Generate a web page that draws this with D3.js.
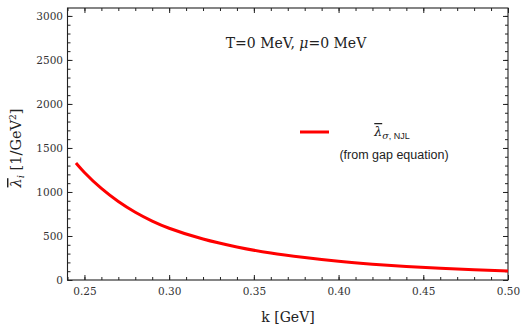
<!DOCTYPE html>
<html><head><meta charset="utf-8">
<script src="https://cdn.jsdelivr.net/npm/d3@7"></script>
<style>
body{margin:0;background:#fff;}
svg{display:block;}
.tick text{font-family:"DejaVu Serif",serif;font-size:10.5px;fill:#333;}
</style></head>
<body>
<svg id="c" width="522" height="327"></svg>
<script>
// data
const kValues = [0.245,0.25,0.26,0.27,0.28,0.29,0.30,0.32,0.34,0.36,0.38,0.40,0.42,0.44,0.46,0.48,0.50];
const lambdaValues = [1330,1222,1040,892,770,670,588,465,375,306,255,213,180,154,133,116,102];
const xTicks = [0.25,0.30,0.35,0.40,0.45,0.50];
const xMinor = d3.range(0.24,0.5001,0.01).map(v=>+v.toFixed(2));
const yTicks = [0,500,1000,1500,2000,2500,3000];
const yMinor = d3.range(0,3001,100);

const svg = d3.select("#c");
const L=67.5,R=508,T=8,B=280;
const x = d3.scaleLinear([0.24,0.50],[L,R]);
const y = d3.scaleLinear([0,3090],[B,T]);
const ink = "#222";

function styleAxis(g){
  g.select(".domain").remove();
  g.selectAll(".tick line").attr("stroke",ink).attr("stroke-width",1);
}
// bottom
svg.append("g").attr("transform",`translate(0,${B})`)
  .call(d3.axisBottom(x).tickValues(xMinor).tickSize(-3).tickFormat("")).call(styleAxis);
svg.append("g").attr("transform",`translate(0,${B})`)
  .call(d3.axisBottom(x).tickValues(xTicks).tickSize(-5).tickPadding(8).tickFormat(d3.format(".2f"))).call(styleAxis);
// top
svg.append("g").attr("transform",`translate(0,${T})`)
  .call(d3.axisTop(x).tickValues(xMinor).tickSize(-3).tickFormat("")).call(styleAxis);
svg.append("g").attr("transform",`translate(0,${T})`)
  .call(d3.axisTop(x).tickValues(xTicks).tickSize(-5).tickFormat("")).call(styleAxis);
// left
svg.append("g").attr("transform",`translate(${L},0)`)
  .call(d3.axisLeft(y).tickValues(yMinor).tickSize(-3).tickFormat("")).call(styleAxis);
svg.append("g").attr("transform",`translate(${L},0)`)
  .call(d3.axisLeft(y).tickValues(yTicks).tickSize(-5).tickPadding(4.5).tickFormat(d3.format("d"))).call(styleAxis);
// right
svg.append("g").attr("transform",`translate(${R},0)`)
  .call(d3.axisRight(y).tickValues(yMinor).tickSize(-3).tickFormat("")).call(styleAxis);
svg.append("g").attr("transform",`translate(${R},0)`)
  .call(d3.axisRight(y).tickValues(yTicks).tickSize(-5).tickFormat("")).call(styleAxis);

// frame
svg.append("rect").attr("x",L).attr("y",T).attr("width",R-L).attr("height",B-T)
  .attr("fill","none").attr("stroke",ink).attr("stroke-width",1.1);

// curve
const data = kValues.map((k,i)=>[k,lambdaValues[i]]);
svg.append("path").datum(data)
  .attr("d",d3.line().x(d=>x(d[0])).y(d=>y(d[1])).curve(d3.curveCatmullRom.alpha(0.5)))
  .attr("fill","none").attr("stroke","#ff0000").attr("stroke-width",3);

// title
svg.append("text").attr("x",296).attr("y",48).attr("text-anchor","middle")
  .attr("font-family","DejaVu Serif, serif").attr("font-size",14).attr("fill","#222")
  .html('T=0 MeV, <tspan font-style="italic">\u03bc</tspan>=0 MeV');

// x label
svg.append("text").attr("x",288).attr("y",322).attr("text-anchor","middle")
  .attr("font-family","DejaVu Serif, serif").attr("font-size",14).attr("fill","#222")
  .text("k [GeV]");

// y label
const yl = svg.append("text").attr("transform","translate(21,148) rotate(-90)")
  .attr("text-anchor","middle").attr("font-family","DejaVu Serif, serif")
  .attr("font-size",14.5).attr("fill","#222");
yl.append("tspan").attr("font-style","italic").attr("text-decoration","overline").text("\u03bb");
yl.append("tspan").attr("font-style","italic").attr("font-size",10).attr("dy",3).text("i");
yl.append("tspan").attr("dy",-3).text(" [1/GeV");
yl.append("tspan").attr("font-size",9).attr("dy",-5).text("2");
yl.append("tspan").attr("dy",5).text("]");

// legend
svg.append("line").attr("x1",300).attr("x2",329).attr("y1",132).attr("y2",132)
  .attr("stroke","#ff0000").attr("stroke-width",3);
const lt = svg.append("text").attr("x",392).attr("y",136).attr("text-anchor","middle")
  .attr("font-family","DejaVu Serif, serif").attr("font-size",12.5).attr("fill","#222");
lt.append("tspan").attr("font-style","italic").attr("text-decoration","overline").text("\u03bb");
lt.append("tspan").attr("font-style","italic").attr("font-size",9.5).attr("dy",3).text("\u03c3");
lt.append("tspan").attr("font-family","Liberation Sans, sans-serif").attr("font-size",9).text(", NJL");
svg.append("text").attr("x",394).attr("y",159).attr("text-anchor","middle")
  .attr("font-family","Liberation Sans, Arial, sans-serif").attr("font-size",12.5).attr("fill","#222")
  .text("(from gap equation)");
</script>
</body></html>
